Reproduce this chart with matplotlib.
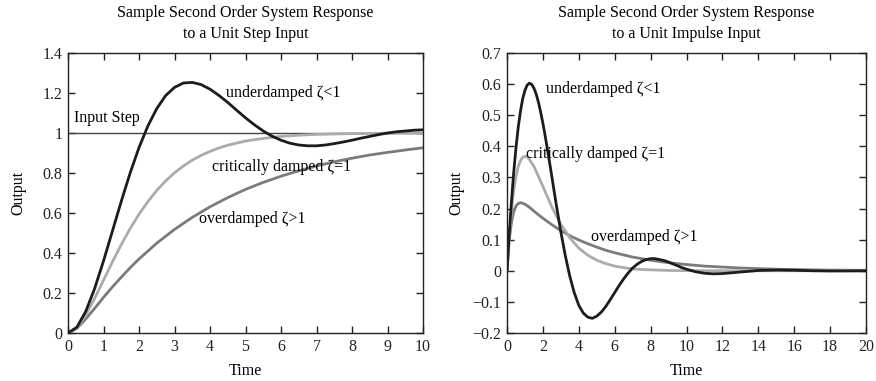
import matplotlib
matplotlib.use("Agg")
import matplotlib.pyplot as plt

plt.rcParams['font.family'] = ['Liberation Serif', 'DejaVu Serif']

# ---- Step response data ----
t_step_under = [0, 0.25, 0.5, 0.75, 1, 1.25, 1.5, 1.75, 2, 2.25, 2.5, 2.75, 3,
                3.25, 3.5, 3.75, 4, 4.25, 4.5, 4.75, 5, 5.25, 5.5, 5.75, 6,
                6.25, 6.5, 6.75, 7, 7.25, 7.5, 7.75, 8, 8.25, 8.5, 8.75, 9,
                9.25, 9.5, 9.75, 10]
step_under = [0, 0.029, 0.108, 0.222, 0.360, 0.509, 0.658, 0.800, 0.927, 1.035,
              1.122, 1.187, 1.228, 1.250, 1.253, 1.242, 1.219, 1.188, 1.153,
              1.114, 1.076, 1.041, 1.010, 0.984, 0.964, 0.949, 0.940, 0.936,
              0.936, 0.940, 0.947, 0.955, 0.964, 0.974, 0.983, 0.992, 1.000,
              1.006, 1.010, 1.014, 1.016]
t_step_crit = [0, 0.25, 0.5, 0.75, 1, 1.25, 1.5, 1.75, 2, 2.25, 2.5, 2.75, 3,
               3.25, 3.5, 3.75, 4, 4.25, 4.5, 5, 5.5, 6, 6.5, 7, 7.5, 8, 8.5,
               9, 9.5, 10]
step_crit = [0, 0.026, 0.090, 0.173, 0.264, 0.355, 0.442, 0.522, 0.594, 0.657,
             0.713, 0.760, 0.801, 0.835, 0.864, 0.888, 0.908, 0.925, 0.939,
             0.960, 0.973, 0.983, 0.989, 0.993, 0.995, 0.997, 0.998, 0.999,
             0.999, 0.9995]
t_step_over = [0, 0.25, 0.5, 0.75, 1, 1.25, 1.5, 1.75, 2, 2.5, 3, 3.5, 4, 4.5,
               5, 5.5, 6, 6.5, 7, 7.5, 8, 8.5, 9, 9.5, 10]
step_over = [0, 0.023, 0.070, 0.123, 0.178, 0.230, 0.279, 0.326, 0.370, 0.449,
             0.518, 0.578, 0.631, 0.677, 0.718, 0.753, 0.784, 0.811, 0.835,
             0.856, 0.874, 0.890, 0.903, 0.915, 0.926]
input_step_t = [0, 10]
input_step = [1, 1]

# ---- Impulse response data ----
t_imp_under = [0, 0.125, 0.25, 0.375, 0.5, 0.625, 0.75, 0.875, 1, 1.125, 1.25,
               1.375, 1.5, 1.625, 1.75, 1.875, 2, 2.125, 2.25, 2.375, 2.5,
               2.625, 2.75, 2.875, 3, 3.25, 3.5, 3.75, 4, 4.25, 4.5, 4.75, 5,
               5.25, 5.5, 5.75, 6, 6.25, 6.5, 6.75, 7, 7.25, 7.5, 7.75, 8,
               8.25, 8.5, 8.75, 9, 9.25, 9.5, 9.75, 10, 10.5, 11, 11.5, 12,
               12.5, 13, 14, 15, 16, 17, 18, 19, 20]
imp_under = [0, 0.119, 0.224, 0.317, 0.395, 0.461, 0.513, 0.553, 0.580, 0.597,
             0.603, 0.599, 0.587, 0.568, 0.542, 0.510, 0.474, 0.434, 0.391,
             0.347, 0.302, 0.256, 0.211, 0.168, 0.125, 0.048, -0.018, -0.071,
             -0.111, -0.136, -0.149, -0.153, -0.146, -0.133, -0.115, -0.093,
             -0.070, -0.047, -0.026, -0.007, 0.009, 0.021, 0.030, 0.036, 0.039,
             0.039, 0.036, 0.033, 0.028, 0.022, 0.016, 0.010, 0.005, -0.003,
             -0.008, -0.0098, -0.009, -0.0066, -0.004, 0.001, 0.0025, 0.0016,
             0.0002, -0.0006, -0.0005, 0]
t_imp = [0, 0.125, 0.25, 0.375, 0.5, 0.625, 0.75, 0.875, 1, 1.125, 1.25, 1.5,
         1.75, 2, 2.5, 3, 3.5, 4, 4.5, 5, 5.5, 6, 6.5, 7, 7.5, 8, 8.5, 9, 9.5,
         10, 11, 12, 13, 14, 15, 16, 17, 18, 19, 20]
imp_crit = [0, 0.110, 0.195, 0.258, 0.303, 0.335, 0.354, 0.365, 0.368, 0.365,
            0.358, 0.335, 0.304, 0.271, 0.205, 0.149, 0.106, 0.073, 0.050,
            0.034, 0.023, 0.015, 0.010, 0.006, 0.004, 0.003, 0.002, 0.001,
            0.0007, 0.0005, 0.0002, 0.0001, 0, 0, 0, 0, 0, 0, 0, 0]
imp_over = [0, 0.098, 0.156, 0.190, 0.208, 0.216, 0.219, 0.217, 0.214, 0.209,
            0.204, 0.192, 0.180, 0.169, 0.148, 0.129, 0.113, 0.099, 0.087,
            0.076, 0.066, 0.058, 0.051, 0.044, 0.039, 0.034, 0.030, 0.026,
            0.023, 0.020, 0.015, 0.012, 0.009, 0.007, 0.005, 0.004, 0.003,
            0.002, 0.0018, 0.0014]

c_under = '#1c1c1c'
c_crit = '#ababab'
c_over = '#7b7b7b'
lw = 2.0
fs = 11.5

fig = plt.figure(figsize=(8.76, 3.81), dpi=100)
ax1 = fig.add_axes([68/876, 1-333/381, 355/876, 280/381])
ax2 = fig.add_axes([507/876, 1-333/381, 359/876, 280/381])

def style(ax):
    for s in ax.spines.values():
        s.set_linewidth(1.0)
        s.set_color('#222222')
    ax.tick_params(direction='in', top=True, right=True, length=5, width=1,
                   labelsize=fs, pad=4, colors='#222222', labelcolor='#222222')

# Left: step
ax1.plot(input_step_t, input_step, color='#444444', lw=1.0)
ax1.plot(t_step_over, step_over, color=c_over, lw=lw)
ax1.plot(t_step_crit, step_crit, color=c_crit, lw=lw)
ax1.plot(t_step_under, step_under, color=c_under, lw=lw)
ax1.set_xlim(0, 10)
ax1.set_ylim(0, 1.4)
ax1.set_xticks(range(0, 11))
ax1.set_yticks([0, 0.2, 0.4, 0.6, 0.8, 1.0, 1.2, 1.4])
ax1.set_yticklabels(['0', '0.2', '0.4', '0.6', '0.8', '1', '1.2', '1.4'])
style(ax1)
ax1.set_title('Sample Second Order System Response\nto a Unit Step Input',
              fontsize=fs, pad=11, linespacing=1.4)
ax1.set_xlabel('Time', fontsize=fs, labelpad=6)
ax1.set_ylabel('Output', fontsize=fs, labelpad=12)
ax1.text(0.18, 1.035, 'Input Step', fontsize=fs, va='bottom')
ax1.text(4.45, 1.20, 'underdamped ζ<1', fontsize=fs, va='center')
ax1.text(4.05, 0.83, 'critically damped ζ=1', fontsize=fs, va='center')
ax1.text(3.7, 0.57, 'overdamped ζ>1', fontsize=fs, va='center')

# Right: impulse
ax2.plot(t_imp, imp_over, color=c_over, lw=lw)
ax2.plot(t_imp, imp_crit, color=c_crit, lw=lw)
ax2.plot(t_imp_under, imp_under, color=c_under, lw=lw)
ax2.set_xlim(0, 20)
ax2.set_ylim(-0.2, 0.7)
ax2.set_xticks(range(0, 21, 2))
ax2.set_yticks([-0.2, -0.1, 0, 0.1, 0.2, 0.3, 0.4, 0.5, 0.6, 0.7])
ax2.set_yticklabels(['\u22120.2', '\u22120.1', '0', '0.1', '0.2', '0.3', '0.4',
                     '0.5', '0.6', '0.7'])
style(ax2)
ax2.set_title('Sample Second Order System Response\nto a Unit Impulse Input',
              fontsize=fs, pad=11, linespacing=1.4)
ax2.set_xlabel('Time', fontsize=fs, labelpad=6)
ax2.set_ylabel('Output', fontsize=fs, labelpad=6)
ax2.text(2.2, 0.585, 'underdamped ζ<1', fontsize=fs, va='center')
ax2.text(1.05, 0.375, 'critically damped ζ=1', fontsize=fs, va='center')
ax2.text(4.68, 0.11, 'overdamped ζ>1', fontsize=fs, va='center')

fig.savefig('out.png', dpi=100)
